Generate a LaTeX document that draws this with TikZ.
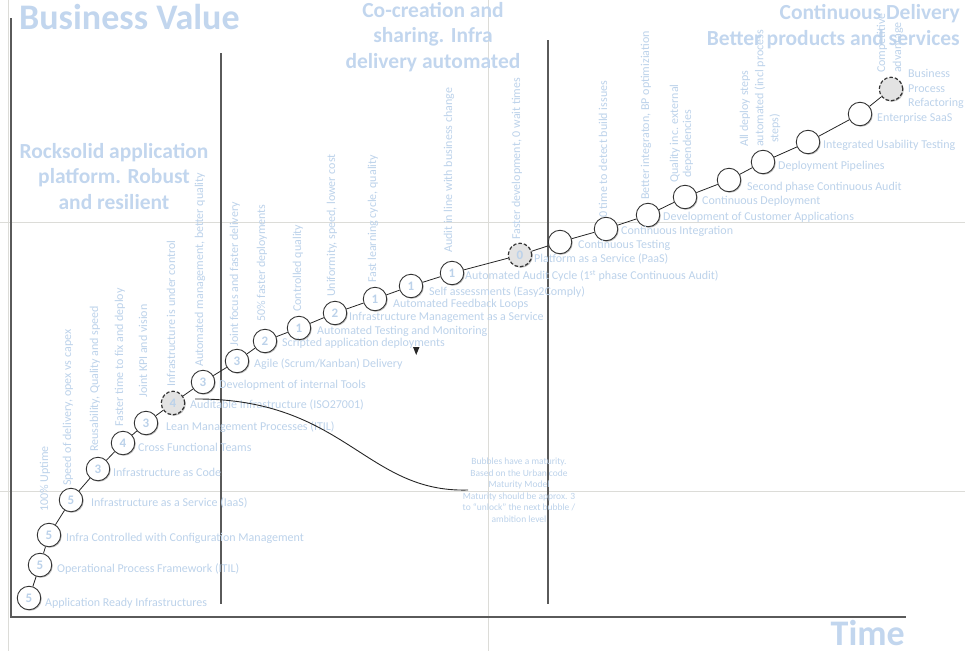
\documentclass[tikz,border=0pt]{standalone}
\usepackage{fontspec}
\setmainfont{Carlito}
\usetikzlibrary{shadows}
\definecolor{lb}{HTML}{BCD2EA}
\definecolor{tb}{HTML}{C2D6EE}
\definecolor{ax}{HTML}{5A5A5A}
\definecolor{gridc}{HTML}{DCDCD8}
\begin{document}
\begin{tikzpicture}[x=1pt,y=-1pt,
  bub/.style={circle,draw=black!80,fill=white,line width=0.9pt,minimum size=23.5pt,inner sep=0pt,
    font=\fontsize{13}{13}\selectfont\bfseries,text=lb,
    drop shadow={shadow xshift=1pt,shadow yshift=-1pt,opacity=0.25,fill=black}},
  dbub/.style={bub,dash pattern=on 3.5pt off 2pt,line width=1.2pt,fill=black!11},
  lab/.style={anchor=west,inner sep=0pt,text=lb,font=\fontsize{12}{14}\selectfont},
  rlab/.style={anchor=west,inner sep=0pt,rotate=90,text=lb,font=\fontsize{12}{14}\selectfont},
  ttl/.style={inner sep=0pt,text=tb,font=\fontsize{21.5}{25.5}\selectfont\bfseries},
  big/.style={inner sep=0pt,text=tb,font=\fontsize{36}{40}\selectfont\bfseries},
  link/.style={draw=black!85,line width=0.8pt},
  gridl/.style={draw=gridc,line width=0.9pt},
  axis/.style={draw=ax,line width=1.6pt},
  divider/.style={draw=ax,line width=1.3pt},
]
\useasboundingbox (0,0) rectangle (965,651);
% light page-grid lines
\draw[gridl] (8,0) -- (8,651);
\draw[gridl] (488,0) -- (488,651);
\draw[gridl] (0,222) -- (965,222);
\draw[gridl] (0,491) -- (965,491);
% axes and dividers
\draw[axis] (11,18) -- (11,617) -- (906,617);
\draw[divider] (221,53) -- (221,604);
\draw[divider] (548,40) -- (548,604);

% titles
\node[big,anchor=base west] (bv) at (19,29) {Business Value};
\node[big,anchor=base east] (time) at (905,645.5) {Time};
\node[ttl,align=center,anchor=base] (cocr) at (433,68) {Co-creation and\\sharing. Infra\\delivery automated};
\node[ttl,align=center,anchor=base] (rock) at (114,209) {Rocksolid application\\platform. Robust\\and resilient};
\node[ttl,align=right,anchor=base east] (cd) at (960,45) {Continuous Delivery\\Better products and services};

% rotated benefit labels
\node[rlab] (r1) at (45,512) {100\% Uptime};
\node[rlab] (r2) at (68,486) {Speed of delivery, opex vs capex};
\node[rlab] (r3) at (95,452) {Reusability, Quality and speed};
\node[rlab] (r4) at (120,427) {Faster time to fix and deploy};
\node[rlab] (r5) at (143,398) {Joint KPI and vision};
\node[rlab] (r6) at (171,387) {Infrastructure is under control};
\node[rlab] (r7) at (200,367) {Automated management, better quality};
\node[rlab] (r8) at (235,347) {Joint focus and faster delivery};
\node[rlab] (r9) at (262,322) {50\% faster deployments};
\node[rlab] (r10) at (298,312) {Controlled quality};
\node[rlab] (r11) at (332,297) {Uniformity, speed, lower cost};
\node[rlab] (r12) at (373,283) {Fast learning cycle, quality};
\node[rlab] (r13) at (449,253) {Audit in line with business change};
\node[rlab] (r14) at (517,240) {Faster development, 0 wait times};
\node[rlab] (r15) at (603,218) {0 time to detect build issues};
\node[rlab] (r16) at (646,200) {Better integraton, BP optimiziation};
\node[rlab] (r17a) at (675,183) {Quality inc. external};
\node[rlab] (r17b) at (688,178) {dependencies};
\node[rlab] (r18a) at (745,147) {All deploy steps};
\node[rlab] (r18b) at (760,147) {automated (incl process};
\node[rlab] (r18c) at (775,143) {steps)};
\node[rlab] (r19a) at (882,73) {Competitive};
\node[rlab] (r19b) at (898,73) {advantage};

% bubbles
\node[bub] (b1) at (29,598) {5};
\node[bub] (b2) at (40,565) {5};
\node[bub] (b3) at (49,535) {5};
\node[bub] (b4) at (71,500) {5};
\node[bub] (b5) at (98,469) {3};
\node[bub] (b6) at (123,443) {4};
\node[bub] (b7) at (146,423) {3};
\node[dbub] (b8) at (173,403) {4};
\node[bub] (b9) at (203,382) {3};
\node[bub] (b10) at (237,361) {3};
\node[bub] (b11) at (265,341) {2};
\node[bub] (b12) at (299,328) {1};
\node[bub] (b13) at (335,313) {2};
\node[bub] (b14) at (375,299) {1};
\node[bub] (b15) at (411,286) {1};
\node[bub] (b16) at (452,273) {1};
\node[dbub] (b17) at (520,255) {0};
\node[bub] (b18) at (560,242) {};
\node[bub] (b19) at (606,229) {};
\node[bub] (b20) at (648,215) {};
\node[bub] (b21) at (685,197) {};
\node[bub] (b22) at (729,180) {};
\node[bub] (b23) at (763,162) {};
\node[bub] (b24) at (808,142) {};
\node[bub] (b25) at (860,114) {};
\node[dbub] (b26) at (891,89) {};
\foreach \i [count=\j from 2] in {1,...,25} \draw[link] (b\i) -- (b\j);

% bubble labels
\node[lab] (l1) at (45,603) {Application Ready Infrastructures};
\node[lab] (l2) at (57,569) {Operational Process Framework (ITIL)};
\node[lab] (l3) at (66,538) {Infra Controlled with Configuration Management};
\node[lab] (l4) at (91,503) {Infrastructure as a Service (IaaS)};
\node[lab] (l5) at (113,472) {Infrastructure as Code};
\node[lab] (l6) at (138,447) {Cross Functional Teams};
\node[lab] (l7) at (166,427) {Lean Management Processes (ITIL)};
\node[lab] (l8) at (190,405) {Auditable Infrastructure (ISO27001)};
\node[lab] (l9) at (219,385) {Development of internal Tools};
\node[lab] (l10) at (254,364) {Agile (Scrum/Kanban) Delivery};
\node[lab] (l11) at (282,343) {Scripted application deployments};
\node[lab] (l12) at (317,331) {Automated Testing and Monitoring};
\node[lab] (l13) at (349,317) {Infrastructure Management as a Service};
\node[lab] (l14) at (393,304) {Automated Feedback Loops};
\node[lab] (l15) at (429,292) {Self assessments (Easy2Comply)};
\node[lab] (l16) at (465,276) {Automated Audit Cycle (1\textsuperscript{st} phase Continuous Audit)};
\node[lab] (l17) at (534,259) {Platform as a Service (PaaS)};
\node[lab] (l18) at (578,245) {Continuous Testing};
\node[lab] (l19) at (621,231) {Continuous Integration};
\node[lab] (l20) at (663,217) {Development of Customer Applications};
\node[lab] (l21) at (702,201) {Continuous Deployment};
\node[lab] (l22) at (747,187) {Second phase Continuous Audit};
\node[lab] (l23) at (778,166) {Deployment Pipelines};
\node[lab] (l24) at (823,145) {Integrated Usability Testing};
\node[lab] (l25) at (877,118) {Enterprise SaaS};
\node[lab,align=left,font=\fontsize{12}{14.5}\selectfont] (l26) at (908,89) {Business\\Process\\Refactoring};

% annotation
\coordinate (cs) at (195,399);
\coordinate (ce) at (468,490);
\draw[link,line width=0.9pt] (cs) .. controls (345,398) and (365,493) .. (ce);
\node[inner sep=0pt,text=lb,align=center,font=\fontsize{9.5}{11.5}\selectfont] (note) at (519,490)
  {Bubbles have a maturity.\\Based on the Urban code\\Maturity Model\\Maturity should be approx. 3\\to “unlock” the next bubble /\\ambition level};
\fill[black!85] (413,347) -- (419.5,347) -- (416.2,355) -- cycle;
\end{tikzpicture}
\end{document}
